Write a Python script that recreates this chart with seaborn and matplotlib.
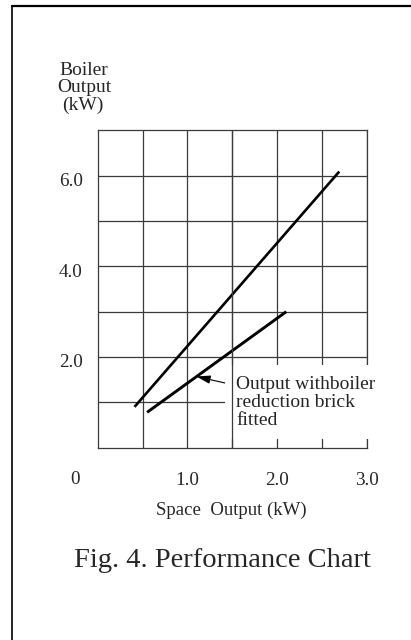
import matplotlib
matplotlib.use("Agg")
import matplotlib.pyplot as plt
from matplotlib.lines import Line2D
from matplotlib.transforms import ScaledTranslation
import seaborn as sns
import pandas as pd

# ---- data ----
space_output_std = [0.41, 2.69]      # kW
boiler_output_std = [0.90, 6.09]     # kW
space_output_brick = [0.55, 2.10]    # kW
boiler_output_brick = [0.78, 3.00]   # kW

x_ticks = [1.0, 2.0, 3.0]
x_tick_labels = ["1.0", "2.0", "3.0"]
y_ticks = [2.0, 4.0, 6.0]
y_tick_labels = ["2.0", "4.0", "6.0"]

annotation_text = "Output withboiler\nreduction brick\nfitted"
annotation_point = (1.10, 1.57)

sns.set_style("white")
plt.rcParams["font.family"] = ["Liberation Serif", "DejaVu Serif"]

fig = plt.figure(figsize=(4.11, 6.40), dpi=100)
ax = fig.add_axes([0.2377, 0.3005, 0.6555, 0.4959])

df_std = pd.DataFrame({"x": space_output_std, "y": boiler_output_std})
df_brick = pd.DataFrame({"x": space_output_brick, "y": boiler_output_brick})
sns.lineplot(data=df_std, x="x", y="y", ax=ax, color="black", linewidth=1.9,
             solid_capstyle="butt", zorder=5)
sns.lineplot(data=df_brick, x="x", y="y", ax=ax, color="black", linewidth=2.1,
             solid_capstyle="butt", zorder=5)

ax.set_xlim(0, 3.0)
ax.set_ylim(0, 7.0)

# grid: every 0.5 kW in x, every 1 kW in y
grid_color = "#3a3a3a"
ax.set_xticks([0.5 * i for i in range(1, 6)], minor=True)
ax.set_yticks([float(i) for i in range(1, 7)], minor=True)
ax.set_xticks(x_ticks)
ax.set_xticklabels(x_tick_labels)
ax.set_yticks(y_ticks)
ax.set_yticklabels(y_tick_labels)
ax.grid(True, which="both", color=grid_color, linewidth=0.9, zorder=1)
ax.set_axisbelow(True)
for s in ax.spines.values():
    s.set_color(grid_color)
    s.set_linewidth(0.9)
ax.tick_params(axis="both", which="both", length=0, labelsize=13.8)
ax.tick_params(axis="x", pad=17.6)
ax.tick_params(axis="y", pad=10.8)
shift_down = ScaledTranslation(0, -3.8 / 100, fig.dpi_scale_trans)
for t in ax.yaxis.get_major_ticks():
    t.label1.set_transform(t.label1.get_transform() + shift_down)

ax.set_xlabel("")
ax.set_ylabel("")

# origin label
ax.annotate("0", xy=(0, 0), xycoords="data", xytext=(-16.1, -22.6),
            textcoords="offset points", ha="center", va="center", fontsize=13.8)

# annotation with white mask
ax.annotate(annotation_text, xy=annotation_point, xycoords="data",
            xytext=(1.54, 1.58), textcoords="data", ha="left", va="top",
            fontsize=14, linespacing=1.06, zorder=6,
            bbox=dict(boxstyle="square,pad=0.55", facecolor="white", edgecolor="none"),
            arrowprops=dict(arrowstyle="-|>,head_length=0.6,head_width=0.18",
                            color="black", linewidth=0.8, relpos=(0, 0.82),
                            shrinkA=0, shrinkB=0))
ax.axvline(1.5, color=grid_color, linewidth=0.9, zorder=7)

# axis titles and caption
fig.text(84.2 / 411, 1 - 75.0 / 640, "Boiler", ha="center", va="baseline", fontsize=14)
fig.text(84.0 / 411, 1 - 91.5 / 640, "Output", ha="center", va="baseline", fontsize=14)
fig.text(82.5 / 411, 1 - 109.5 / 640, "(kW)", ha="center", va="baseline", fontsize=14)
fig.text(231.4 / 411, 1 - 515.0 / 640, "Space  Output (kW)", ha="center", va="baseline",
         fontsize=13.5)
fig.text(222.8 / 411, 1 - 566.7 / 640, "Fig. 4. Performance Chart", ha="center",
         va="baseline", fontsize=20.5)

# page frame (top and left edges)
fig.add_artist(Line2D([12 / 411, 1.0], [1 - 6 / 640, 1 - 6 / 640],
                      transform=fig.transFigure, color="black", linewidth=1.6))
fig.add_artist(Line2D([12 / 411, 12 / 411], [1 - 6 / 640, 0.0],
                      transform=fig.transFigure, color="black", linewidth=1.2))

fig.savefig("out.png", dpi=100)
